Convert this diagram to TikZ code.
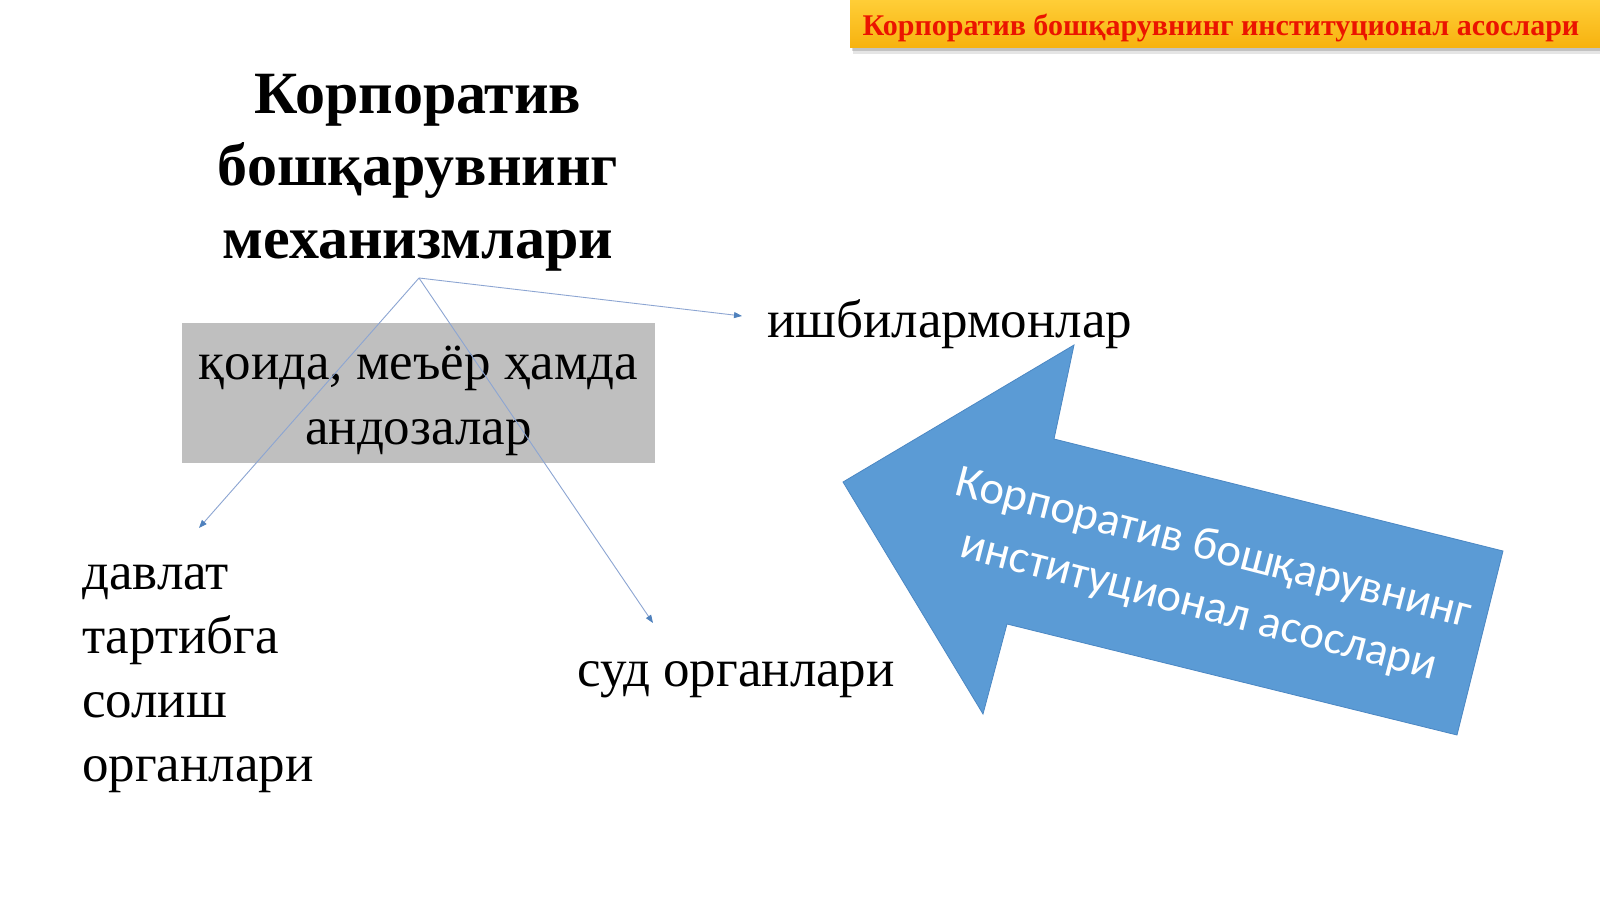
\documentclass[tikz,border=0pt]{standalone}
\usepackage{fontspec}
\setmainfont{Liberation Serif}
\newfontfamily\calib{Carlito}
\usetikzlibrary{arrows.meta}
\definecolor{boxgray}{RGB}{191,191,191}
\definecolor{linecol}{RGB}{140,165,210}
\definecolor{tipcol}{RGB}{79,129,189}
\definecolor{arrowblue}{RGB}{91,155,213}
\definecolor{arrowedge}{RGB}{75,135,195}
\definecolor{bannertop}{RGB}{255,206,55}
\definecolor{bannerbot}{RGB}{247,178,15}
\definecolor{bannerred}{RGB}{235,20,0}
\tikzset{
  bodytext/.style={inner sep=0pt, font=\fontsize{53}{64}\selectfont},
  conn/.style={draw=linecol, line width=0.9pt, -{Triangle[length=8pt,width=6pt,color=tipcol]}},
  graybox/.style={fill=boxgray, inner sep=0pt, minimum width=473pt, minimum height=140pt},
  boxtext/.style={inner sep=0pt, align=center, font=\fontsize{53}{65}\selectfont},
}
\begin{document}
\begin{tikzpicture}[x=1pt,y=-1pt]
\useasboundingbox (0,0) rectangle (1600,899);
\fill[white] (0,0) rectangle (1600,899);
% banner
\fill[black, opacity=0.10] (853,2) rectangle (1600,54);
\fill[black, opacity=0.15] (852,2) rectangle (1600,51);
\shade[top color=bannertop, bottom color=bannerbot] (850,0) rectangle (1600,48);
\node[inner sep=0pt, text=bannerred, font=\bfseries\fontsize{30}{32}\selectfont] (banner) at (1221,28.5) {Корпоратив бошқарувнинг институционал асослари};
% title
\node[inner sep=0pt, align=center, font=\bfseries\fontsize{60}{72.5}\selectfont] (title) at (418,172.5) {Корпоратив\\бошқарувнинг\\механизмлари};
\coordinate (apex) at (419,278);
% gray box
\node[graybox] (rules) at (418.5,393) {};
\node[boxtext] (rulestext) at (418.5,401) {қоида, меъёр ҳамда\\андозалар};
% texts
\node[bodytext, anchor=west] (biz) at (767,324) {ишбилармонлар};
\node[bodytext, anchor=west, align=left] (state) at (82,679) {давлат\\тартибга\\солиш\\органлари};
\node[bodytext, anchor=west] (court) at (577,680) {суд органлари};
% connector ends
\coordinate (ebiz) at (742,316);
\coordinate (estate) at (199,528);
\coordinate (ecourt) at (653,623);
\draw[conn] (apex) -- (ebiz);
\draw[conn] (apex) -- (estate);
\draw[conn] (apex) -- (ecourt);
% big arrow
\filldraw[fill=arrowblue, draw=arrowedge, line width=0.8pt]
  (843,482) -- (1074,345) -- (1054,439) -- (1503,551) -- (1457,735) -- (1007,624) -- (983,714) -- cycle;
\node[inner sep=0pt, text=white, align=center, rotate=-14.5, font=\calib\fontsize{46.5}{59}\selectfont] (arrowtext) at (1206,578) {Корпоратив бошқарувнинг\\институционал асослари};
\end{tikzpicture}
\end{document}
